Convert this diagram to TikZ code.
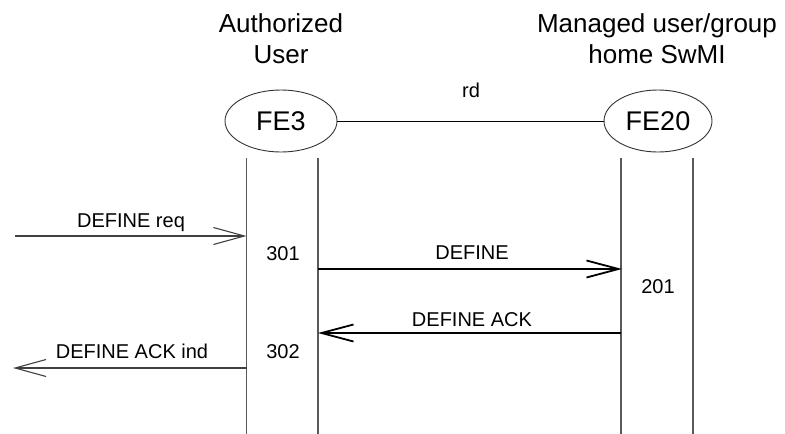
\documentclass[tikz,border=0pt]{standalone}
\usepackage{fontspec}
\setmainfont{Liberation Sans}
\usetikzlibrary{arrows.meta,shapes.geometric}
\begin{document}
\begin{tikzpicture}[x=1pt,y=-1pt,
  head/.style={font=\fontsize{26}{31}\selectfont, align=center, anchor=base, inner sep=0pt},
  fe/.style={draw=black!80, line width=0.9pt, ellipse, minimum width=#1, minimum height=62pt, inner sep=0pt, font=\fontsize{27}{32}\selectfont},
  lbl/.style={font=\fontsize{20}{24}\selectfont, anchor=base, inner sep=0pt},
  lifeline/.style={draw=black!65, line width=1.3pt},
  extmsg/.style={draw=black!75, line width=1.2pt, -{Straight Barb[length=31pt,width=17pt,line width=1.1pt]}},
  intmsg/.style={draw=black, line width=2pt, -{Straight Barb[length=32pt,width=17pt,line width=1.8pt]}},
  link/.style={draw=black, line width=1pt}
]
\useasboundingbox (0,0) rectangle (785,434);
% headers
\node[head] (h1) at (281,63) {Authorized\\User};
\node[head] (h2) at (657,63) {Managed user/group\\home SwMI};
% entities
\node[fe=112pt] (fe3) at (281,121) {FE3};
\node[fe=108pt] (fe20) at (658,121) {FE20};
\draw[link] (fe3) -- (fe20);
\node[lbl] (rdl) at (471,97) {rd};
% lifelines
\coordinate (a1t) at (246.5,158); \coordinate (a1b) at (246.5,434);
\coordinate (a2t) at (318,158);   \coordinate (a2b) at (318,434);
\coordinate (b1t) at (621,158);   \coordinate (b1b) at (621,434);
\coordinate (b2t) at (693,158);   \coordinate (b2b) at (693,434);
\draw[lifeline] (a1t) -- (a1b);
\draw[lifeline] (a2t) -- (a2b);
\draw[lifeline] (b1t) -- (b1b);
\draw[lifeline] (b2t) -- (b2b);
% messages
\coordinate (reqs) at (15,236); \coordinate (reqe) at (246.5,236);
\draw[extmsg] (reqs) -- (reqe);
\node[lbl] (reql) at (131,227) {DEFINE req};
\node[lbl] (n301) at (283,260) {301};
\coordinate (defs) at (318,269); \coordinate (defe) at (622,269);
\draw[intmsg] (defs) -- (defe);
\node[lbl] (defl) at (472,259) {DEFINE};
\node[lbl] (n201) at (658,293) {201};
\coordinate (acks) at (621,333); \coordinate (acke) at (318,333);
\draw[intmsg] (acks) -- (acke);
\node[lbl] (ackl) at (472,326) {DEFINE ACK};
\coordinate (inds) at (246.5,368); \coordinate (inde) at (13,368);
\draw[extmsg] (inds) -- (inde);
\node[lbl] (indl) at (132,358) {DEFINE ACK ind};
\node[lbl] (n302) at (283,358) {302};
\end{tikzpicture}
\end{document}
